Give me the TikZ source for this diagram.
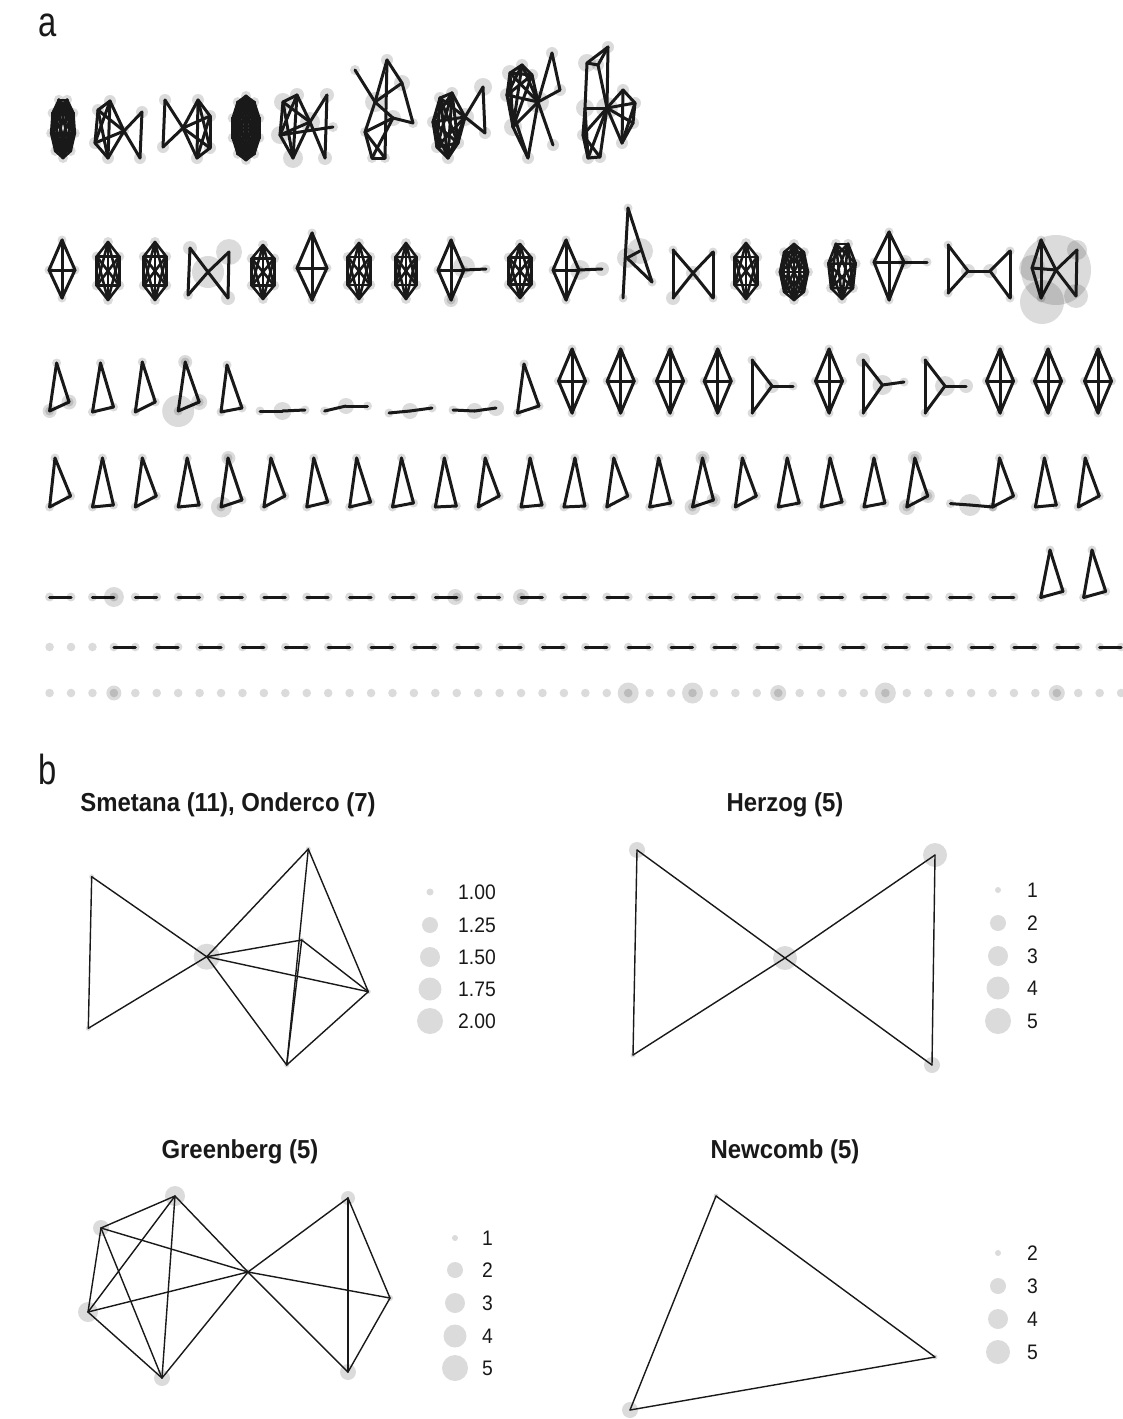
\documentclass[tikz,border=0pt]{standalone}
\usepackage{fontspec}
\setmainfont{Liberation Sans}
\newfontfamily\lfont[FakeStretch=0.92]{Liberation Sans}
\newfontfamily\pfont[FakeStretch=0.78]{Liberation Sans}
\usetikzlibrary{calc}
\tikzset{
 nd/.style={fill=black,fill opacity=0.14},
 ed/.style={line width=3pt,line cap=round,line join=round,draw=black!90},
 edb/.style={line width=1.4pt,line cap=round,line join=round,draw=black!90},
 ttl/.style={font={\lfont\bfseries\fontsize{26}{30}\selectfont},inner sep=0pt,anchor=base,text=black!90},
 leg/.style={font={\lfont\fontsize{21}{24}\selectfont},inner sep=0pt,anchor=base west,text=black!90},
 plab/.style={font={\pfont\fontsize{42}{46}\selectfont},inner sep=0pt,anchor=base west,text=black!90},
}
% generic small graph: prefix, nodes name/x/y/r, edges a/b
\newcommand\G[3]{%
 \foreach \na/\xa/\ya/\ra in {#2}{\coordinate (#1\na) at (\xa,\ya); \fill[nd] (\xa,\ya) circle (\ra pt);}%
 \foreach \ea/\eb in {#3}{\draw[ed] (#1\ea)--(#1\eb);}}
\newcommand\Gb[3]{%
 \foreach \na/\xa/\ya/\ra in {#2}{\coordinate (#1\na) at (\xa,\ya); \fill[nd] (\xa,\ya) circle (\ra pt);}%
 \foreach \ea/\eb in {#3}{\draw[edb] (#1\ea)--(#1\eb);}}
% clique: prefix cx cy rx ry n
\newcommand\Kq[6]{%
 \foreach \i in {1,...,#6}{\coordinate (#1-\i) at ({#2+#4*cos(90+360*\i/#6)},{#3+#5*sin(90+360*\i/#6)});}%
 \foreach \i in {1,...,#6}{\fill[nd] (#1-\i) circle (5pt);}%
 \foreach \i in {1,...,#6}{\foreach \j in {1,...,#6}{\ifnum\i<\j \draw[ed,line width=2.6pt] (#1-\i)--(#1-\j);\fi}}}
% kite: prefix cx ytop ymid ybot hw
\newcommand\Kite[6]{\G{#1}{T/#2/#3/4.5, L/#2-#6/#4/4.5, R/#2+#6/#4/4.5, B/#2/#5/4.5}{T/L,T/R,L/B,R/B,T/B,L/R}}
% triangle: prefix x topdx ytop ybl rdx ry
\newcommand\Tri[7]{\G{#1}{T/#2+#3/#4/4.5, A/#2/#5/4.5, C/#2+#6/#7/4.5}{T/A,A/C,C/T}}
\begin{document}
\begin{tikzpicture}[x=1pt,y=-1pt]
\useasboundingbox (0,0) rectangle (1122,1419);
\fill[white] (0,0) rectangle (1122,1419);
\node[plab] (pa) at (38,36) {a};
\node[plab] (pb) at (38,784) {b};
% ---------------- row 1
\Kq{ra}{63}{128}{12}{30}{9}
\G{rb}{a/98/110/6, b/110/101/6, c/95/143/6, d/108/158/6, e/124/131/5, f/142/112/6, g/140/158/6}{a/b,a/c,a/d,a/e,b/c,b/d,b/e,c/d,c/e,d/e,e/f,e/g,f/g}
\G{rc}{a/165/100/6, b/163/147/6, e/183/128/4, c/198/100/6, d/210/116/6, f/210/148/6, g/197/158/6}{a/b,a/e,b/e,e/c,e/d,e/f,e/g,c/d,c/f,c/g,d/f,d/g,f/g}
\Kq{rd}{246}{128}{14}{32}{10}
\G{re}{a/283/102/9, b/297/95/7, c/280/135/9, d/293/158/10, e/310/122/10, f/327/95/7, g/333/127/5, h/325/158/7}{a/b,a/c,a/d,a/e,b/c,b/d,b/e,c/d,c/e,d/e,e/f,e/h,f/h,c/g}
\G{rf}{a/355/70/5, b/387/60/6, c/402/83/8, d/375/102/10, e/393/118/8, f/413/123/5, g/365/132/5, h/372/158/5, i/385/158/5}{a/d,d/e,b/c,b/d,b/i,c/d,c/f,e/f,d/g,g/h,g/i,h/i,e/g,e/h}
\G{rg}{a/440/98/6, b/452/93/6, c/433/122/6, d/437/147/6, e/448/158/6, f/458/143/6, g/465/117/9, h/483/87/9, i/485/133/6}{a/b,a/c,a/d,a/e,a/f,a/g,b/c,b/d,b/e,b/f,b/g,c/d,c/e,c/f,c/g,d/e,d/f,d/g,e/f,e/g,f/g,g/h,g/i,h/i}
\G{rh}{a/522/65/6, b/510/73/8, c/532/75/6, d/507/95/7, e/513/127/9, f/538/102/11, g/528/158/6, h/552/53/6, i/560/90/6, j/553/145/6}{a/b,a/c,a/d,a/e,a/f,b/c,b/d,b/e,b/f,c/d,c/e,c/f,d/e,d/f,e/f,d/g,e/g,f/g,f/h,h/i,i/f,f/j}
\G{ri}{a/587/63/9, b/608/47/6, c/598/65/6, d/585/108/9, e/607/108/11, f/623/90/6, g/635/103/6, h/633/123/6, i/622/143/6, j/583/135/6, k/588/158/6, l/600/157/6}{a/b,b/c,a/c,a/d,c/e,b/e,d/e,e/f,e/g,e/h,e/i,f/g,g/h,h/i,f/i,g/i,e/j,e/k,e/l,j/k,j/l,k/l,d/j,d/k}
% ---------------- row 2
\Kite{sa}{62}{240}{270}{298}{13}
\Kq{sb}{108}{271}{13}{29}{6}
\Kq{sc}{155}{271}{13}{29}{6}
\G{sd}{TL/190/248/7, BL/188/295/5, TR/229/252/13, BR/228/298/7, C/208/272/16}{TL/BL,TL/C,C/BR,BL/C,C/TR,TR/BR}
\Kq{se}{263}{272}{13}{27}{6}
\Kite{sf}{312}{233}{268}{300}{15}
\Kq{sg}{359}{271}{13}{28}{6}
\Kq{sh}{406}{271}{12}{28}{6}
\Kite{si}{451}{240}{270}{300}{13}
\G{si}{X/486/269/4.5}{R/X}
\fill[nd] (464,267) circle (11pt); \fill[nd] (451,300) circle (7pt);
\Kq{sj}{520}{271}{13}{27}{6}
\Kite{sk}{566}{240}{270}{300}{13}
\G{sk}{X/602/269/7}{R/X}
\fill[nd] (580,270) circle (10pt);
\G{sl}{T/628/208/4.5, BL/623/298/4.5, R/652/282/4.5, M/640/251/13, N/627/258/10}{T/BL,T/R,N/M,N/R}
\G{sm}{TL/673/250/4.5, BL/673/298/7, TR/713/252/4.5, BR/713/298/4.5, C/693/273/7}{TL/BL,TL/C,C/BR,BL/C,C/TR,TR/BR}
\Kq{sn}{746}{271}{13}{28}{6}
\Kq{so}{794}{272}{14}{28}{8}
\Kq{sp}{842}{270}{14}{29}{7}
\Kite{sq}{889}{232}{262}{300}{15}
\G{sq}{X/927/262/4.5}{R/X}
\fill[nd] (905,262) circle (7pt);
\G{sr}{a/948/245/4.5, b/948/293/4.5, c/968/271/7, d/990/271/7, e/1010/251/4.5, f/1010/298/4.5}{a/b,a/c,b/c,c/d,d/e,d/f,e/f}
\G{ss}{T/1041/240/4.5, L/1032/268/13, B/1041/298/4.5, M/1056/270/35, TR/1077/250/10, BR/1076/296/12}{T/L,L/B,T/B,T/M,B/M,L/M,M/TR,M/BR,TR/BR}
\fill[nd] (1042,302) circle (22pt);
% ---------------- row 3
\Tri{ta}{49.6}{7}{363}{411}{19.5}{402}
\Tri{tb}{92.5}{8}{363}{412}{21}{407}
\Tri{tc}{135.3}{7}{362}{412}{20}{402}
\Tri{td}{178.2}{7}{362}{411}{21}{402}
\Tri{te}{221}{6}{365}{412}{21}{408}
\fill[nd] (49.6,411) circle (7pt); \fill[nd] (69,402) circle (7.5pt);
\fill[nd] (185.2,362) circle (7pt); \fill[nd] (178.2,411) circle (16pt); \fill[nd] (199.2,402) circle (8pt);
\G{ua}{a/260/411/4.5, b/282.5/411/9, c/305/410/4.5}{a/b,b/c}
\G{ub}{a/324.6/411/4.5, b/346/406/8, c/367.5/406/4.5}{a/b,b/c}
\G{uc}{a/389/413/4.5, b/410/411/8, c/432/408/4.5}{a/b,b/c}
\G{ud}{a/453/410/4.5, b/474.6/411/8, c/496/408/8}{a/b,b/c}
\Tri{tf}{517.5}{6.5}{364}{413}{21.5}{406}
\Kite{va}{572}{349}{381}{413}{13.5}
\Kite{vb}{620.7}{349}{381}{413}{13.5}
\Kite{vc}{670}{349}{381}{413}{13.5}
\Kite{vd}{717.7}{349}{381}{413}{13.5}
\G{ve}{T/752/360/4.5, B/752/413/4.5, J/772/386/7, X/793/386/4.5}{T/J,B/J,T/B,J/X}
\Kite{vf}{829}{349}{381}{413}{13.5}
\G{vg}{T/863/360/7, B/863/413/4.5, J/882.5/385/10, X/904/382/4.5}{T/J,B/J,T/B,J/X}
\G{vh}{T/925/360/4.5, B/925/413/4.5, J/945/386/10, X/966/386/7}{T/J,B/J,T/B,J/X}
\Kite{vi}{1000}{349}{381}{413}{13.5}
\Kite{vj}{1048}{349}{381}{413}{13.5}
\Kite{vk}{1098}{349}{381}{413}{13.5}
% ---------------- row 4
\foreach \k/\td/\ry in {0/5.4/496,1/10/505,2/7/496,3/9/505,4/7/500,5/7/496,6/7/502,7/7/502,8/9/503,9/9/506,10/7/496,11/9/505,12/11/506,13/7/496,14/9/503,15/10/500,16/7/496,17/9/503,18/9/502,19/10/503,20/8/496,22/7/496,23/9/505,24/7/496}{%
 \pgfmathsetmacro\xx{49.6+42.86*\k}
 \Tri{w\k}{\xx}{\td}{458}{507}{21}{\ry}}
\fill[nd] (228.4,458) circle (7pt); \fill[nd] (221.4,507) circle (10.5pt);
\fill[nd] (702.5,458) circle (7pt); \fill[nd] (692.5,507) circle (8pt); \fill[nd] (713.5,500) circle (7pt);
\fill[nd] (914.8,458) circle (7pt); \fill[nd] (906.8,507) circle (8pt); \fill[nd] (927.8,496) circle (7pt);
\G{wx}{a/950.4/503.6/4.5, b/970/505/11, c/993/507/4.5}{a/b,b/c}
% ---------------- row 5
\foreach \k in {0,...,22}{%
 \pgfmathsetmacro\xx{49.6+42.86*\k}
 \G{x\k}{A/\xx/597/4.5, B/\xx+21.43/597/4.5}{A/B}}
\fill[nd] (113.9,597) circle (10pt);
\fill[nd] (455.2,597) circle (8pt);
\fill[nd] (521,597) circle (8pt);
\Tri{xt}{1040.7}{9.3}{550}{597.5}{22.3}{591.4}
\Tri{xu}{1083.6}{8.4}{550}{597.5}{22.1}{591.4}
% ---------------- row 6
\foreach \j in {0,1,2}{%
 \pgfmathsetmacro\xx{49.6+21.43*\j}
 \G{y\j}{A/\xx/647/4.3}{}}
\foreach \j in {3,5,...,49}{%
 \pgfmathsetmacro\xx{49.6+21.43*\j}
 \G{y\j}{A/\xx/647/4.3, B/\xx+21.43/647/4.3}{A/B}}
% ---------------- row 7
\foreach \j in {0,...,50}{%
 \pgfmathsetmacro\xx{49.6+21.43*\j}
 \coordinate (z\j) at (\xx,693); \fill[nd] (z\j) circle (4.3pt);}
\foreach \j/\rr in {3/7.5,27/10.5,30/10.5,34/8,39/10.5,47/8}{\fill[nd] (z\j) circle (\rr pt);}
% ================= part b
\node[ttl] (t1) at (228,811) {Smetana (11), Onderco (7)};
\node[ttl] (t2) at (785,811) {Herzog (5)};
\node[ttl] (t3) at (240,1158) {Greenberg (5)};
\node[ttl] (t4) at (785,1158) {Newcomb (5)};
\Gb{s}{A/91.7/876.7/2.5, B/88.3/1028.3/2.5, C/206.7/956.7/13, D/308.3/849/2.5, E/301.7/940/2.5, F/368.3/991.7/2.5, G/286.7/1065/2.5}{A/B,A/C,B/C,C/D,C/E,C/F,C/G,D/F,D/G,E/F,E/G,G/F}
\Gb{h}{TL/637/850/8, BL/633/1055/2.5, C/785/958/12, TR/935/855/12, BR/932/1065/8}{TL/BL,TL/C,C/BR,BL/C,C/TR,TR/BR}
\Gb{g}{a/101/1228/8, b/175/1196/10, c/88/1312/10, d/162/1378/8, e/248/1272/3, f/348/1198/7, g/390/1298/3, h/348/1372/8}{a/b,a/c,a/d,a/e,b/c,b/d,b/e,c/d,c/e,d/e,e/f,e/g,e/h,f/g,f/h,g/h}
\Gb{n}{a/716/1196/2.5, b/935/1357/2.5, c/630/1410/8}{a/b,b/c,c/a}
% legends
\foreach \v/\yy/\rr [count=\c] in {1.00/892/3.5, 1.25/925/8, 1.50/957/10, 1.75/989/11.5, 2.00/1021/13}{%
 \fill[nd] (430,\yy) circle (\rr pt); \node[leg] (la\c) at (458,\yy+7.5) {\v};}
\foreach \v/\yy/\rr [count=\c] in {1/890/3, 2/923/8, 3/956/10, 4/988/11.5, 5/1021/13}{%
 \fill[nd] (998,\yy) circle (\rr pt); \node[leg] (lb\c) at (1027,\yy+7.5) {\v};}
\foreach \v/\yy/\rr [count=\c] in {1/1238/3, 2/1270/8, 3/1303/10, 4/1336/11.5, 5/1368/13}{%
 \fill[nd] (455,\yy) circle (\rr pt); \node[leg] (lc\c) at (482,\yy+7.5) {\v};}
\foreach \v/\yy/\rr [count=\c] in {2/1253/3, 3/1286/8, 4/1319/10, 5/1352/12}{%
 \fill[nd] (998,\yy) circle (\rr pt); \node[leg] (ld\c) at (1027,\yy+7.5) {\v};}
\end{tikzpicture}
\end{document}
